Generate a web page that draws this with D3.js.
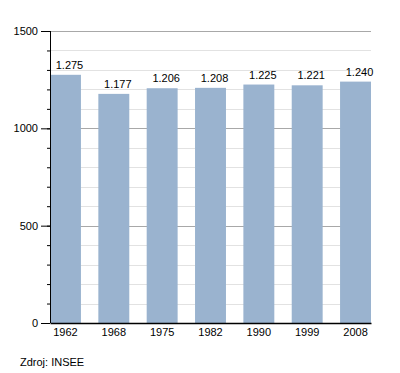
<!DOCTYPE html>
<html>
<head>
<meta charset="utf-8">
<script src="https://cdn.jsdelivr.net/npm/d3@7"></script>
<style>
  body { margin: 0; background: #fff; }
  text { font-family: "Liberation Sans", Arial, sans-serif; }
</style>
</head>
<body>
<svg id="chart"></svg>
<script>
// chart data
const years = ['1962', '1968', '1975', '1982', '1990', '1999', '2008'];
const population = [1275, 1177, 1206, 1208, 1225, 1221, 1240];
const yTicks = [0, 500, 1000, 1500];
const sourceText = 'Zdroj: INSEE';

const width = 400;
const height = 373;
const margin = { top: 31, right: 29, bottom: 50, left: 50 };
const chartWidth = width - margin.left - margin.right;
const chartHeight = height - margin.top - margin.bottom;

const svg = d3.select('#chart')
  .attr('width', width)
  .attr('height', height);

const g = svg.append('g')
  .attr('transform', `translate(${margin.left}, ${margin.top})`);

const x = d3.scaleBand()
  .domain(years)
  .range([0, chartWidth])
  .paddingInner(0.36)
  .paddingOuter(0);

const y = d3.scaleLinear()
  .domain([0, 1500])
  .range([chartHeight, 0]);

// minor grid every 100
const minor = d3.range(100, 1500, 100).filter((v) => v % 500 !== 0);
g.selectAll('.minor')
  .data(minor)
  .enter()
  .append('line')
  .attr('x1', 0)
  .attr('x2', chartWidth)
  .attr('y1', (d) => Math.round(y(d)) + 0.5)
  .attr('y2', (d) => Math.round(y(d)) + 0.5)
  .attr('stroke', '#e2e2e2');

// major grid
g.selectAll('.major')
  .data(yTicks.filter((d) => d > 0))
  .enter()
  .append('line')
  .attr('x1', 0)
  .attr('x2', chartWidth)
  .attr('y1', (d) => Math.round(y(d)) + 0.5)
  .attr('y2', (d) => Math.round(y(d)) + 0.5)
  .attr('stroke', '#a8a8a8');

// bars
g.selectAll('rect')
  .data(population)
  .enter()
  .append('rect')
  .attr('x', (d, i) => x(years[i]))
  .attr('y', (d) => y(d))
  .attr('width', x.bandwidth())
  .attr('height', (d) => chartHeight - y(d))
  .attr('fill', '#9ab3cf');

// value labels (thousands separator is a dot), sit a bit right of bar centre
const fmt = (v) => d3.format(',')(v).replace(',', '.');
g.selectAll('.val')
  .data(population)
  .enter()
  .append('text')
  .attr('x', (d, i) => x(years[i]) + x.bandwidth() / 2 + 4)
  .attr('y', (d) => y(d) - 6)
  .attr('text-anchor', 'middle')
  .style('font-size', '11px')
  .text(fmt);

// y axis with minor ticks
g.append('g')
  .call(d3.axisLeft(y).tickValues(d3.range(0, 1501, 100)).tickSize(3).tickFormat(''))
  .call((a) => a.select('.domain').remove())
  .selectAll('line').attr('stroke', '#000');

g.append('g')
  .call(d3.axisLeft(y).tickValues(yTicks).tickSize(9).tickPadding(3).tickFormat(d3.format('d')))
  .call((a) => a.select('.domain').remove())
  .call((a) => a.selectAll('line').attr('stroke', '#000'))
  .call((a) => a.selectAll('text').style('font-size', '11px').attr('fill', '#000'));

g.append('line')
  .attr('x1', 0.5).attr('x2', 0.5)
  .attr('y1', 0).attr('y2', chartHeight)
  .attr('stroke', '#000');

// x axis
g.append('g')
  .attr('transform', `translate(0, ${chartHeight})`)
  .call(d3.axisBottom(x).tickSize(0).tickPadding(5))
  .call((a) => a.select('.domain').attr('stroke', '#000').attr('stroke-width', 1.5))
  .call((a) => a.selectAll('text').style('font-size', '11px').attr('fill', '#000'));

// source
svg.append('text')
  .attr('x', 20)
  .attr('y', 366)
  .style('font-size', '11px')
  .text(sourceText);
</script>
</body>
</html>
